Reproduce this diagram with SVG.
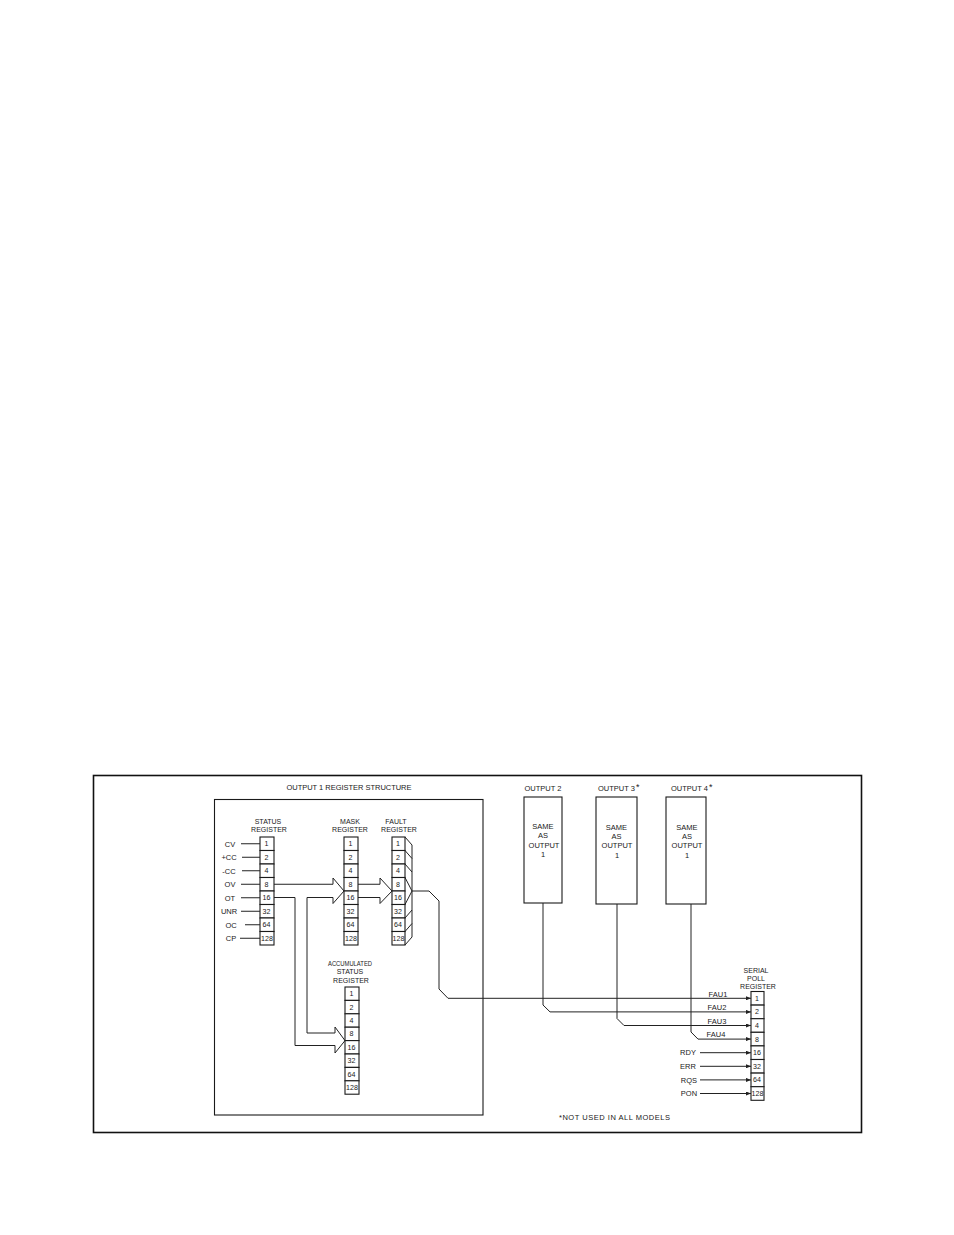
<svg xmlns="http://www.w3.org/2000/svg" width="954" height="1235" viewBox="0 0 954 1235">
<style>
  text { font-family: "Liberation Sans", Arial, sans-serif; font-size: 7.5px; fill: #1a1a1a; }
  .c { text-anchor: middle; }
  .h { text-anchor: middle; font-size: 7px; }
  .n { text-anchor: middle; font-size: 7.1px; }
  .star { font-size: 9px; }
  .cell { fill: #fff; stroke: #1a1a1a; stroke-width: 1.1; }
  .box { fill: none; stroke: #1a1a1a; stroke-width: 1.1; }
  .ln { fill: none; stroke: #222; stroke-width: 1; }
</style>
<defs>
  <marker id="ah" markerUnits="userSpaceOnUse" markerWidth="5" markerHeight="4" refX="5" refY="2" orient="auto">
    <path d="M0,0 L5,2 L0,4 z" fill="#222"/>
  </marker>
</defs>
<rect width="954" height="1235" fill="#fff"/>

<g id="frame">
  <rect x="93.5" y="775.5" width="768" height="357" fill="none" stroke="#111" stroke-width="1.6"/>
</g>

<g id="output1">
  <rect class="box" x="214.5" y="799.5" width="268.5" height="315.5"/>
  <text class="c" x="349" y="790" textLength="125" lengthAdjust="spacing">OUTPUT 1 REGISTER STRUCTURE</text>
</g>

<g id="status-register">
  <text class="h" x="268" y="824">STATUS</text>
  <text class="h" x="269" y="832">REGISTER</text>
  <rect class="cell" x="260" y="837" width="14" height="13.5"/>
  <rect class="cell" x="260" y="850.5" width="14" height="13.5"/>
  <rect class="cell" x="260" y="864" width="14" height="13.5"/>
  <rect class="cell" x="260" y="877.5" width="14" height="13.5"/>
  <rect class="cell" x="260" y="891" width="14" height="13.5"/>
  <rect class="cell" x="260" y="904.5" width="14" height="13.5"/>
  <rect class="cell" x="260" y="918" width="14" height="13.5"/>
  <rect class="cell" x="260" y="931.5" width="14" height="13.5"/>
  <text class="n" x="266.5" y="846.3">1</text>
  <text class="n" x="266.5" y="859.8">2</text>
  <text class="n" x="266.5" y="873.3">4</text>
  <text class="n" x="266.5" y="886.8">8</text>
  <text class="n" x="266.5" y="900.3">16</text>
  <text class="n" x="266.5" y="913.8">32</text>
  <text class="n" x="266.5" y="927.3">64</text>
  <text class="n" x="267" y="940.8">128</text>
  <text class="c" x="230" y="846.5">CV</text>
  <text class="c" x="229" y="860">+CC</text>
  <text class="c" x="229" y="873.5">-CC</text>
  <text class="c" x="230" y="887">OV</text>
  <text class="c" x="230" y="900.5">OT</text>
  <text class="c" x="229" y="914">UNR</text>
  <text class="c" x="231" y="927.5">OC</text>
  <text class="c" x="231" y="941">CP</text>
</g>

<g id="mask-register">
  <text class="h" x="350" y="824">MASK</text>
  <text class="h" x="350" y="832">REGISTER</text>
  <rect class="cell" x="344" y="837" width="14" height="13.5"/>
  <rect class="cell" x="344" y="850.5" width="14" height="13.5"/>
  <rect class="cell" x="344" y="864" width="14" height="13.5"/>
  <rect class="cell" x="344" y="877.5" width="14" height="13.5"/>
  <rect class="cell" x="344" y="891" width="14" height="13.5"/>
  <rect class="cell" x="344" y="904.5" width="14" height="13.5"/>
  <rect class="cell" x="344" y="918" width="14" height="13.5"/>
  <rect class="cell" x="344" y="931.5" width="14" height="13.5"/>
  <text class="n" x="350.5" y="846.3">1</text>
  <text class="n" x="350.5" y="859.8">2</text>
  <text class="n" x="350.5" y="873.3">4</text>
  <text class="n" x="350.5" y="886.8">8</text>
  <text class="n" x="350.5" y="900.3">16</text>
  <text class="n" x="350.5" y="913.8">32</text>
  <text class="n" x="350.5" y="927.3">64</text>
  <text class="n" x="351" y="940.8">128</text>
</g>

<g id="fault-register">
  <text class="h" x="396" y="824">FAULT</text>
  <text class="h" x="399" y="832">REGISTER</text>
  <rect class="cell" x="392" y="837" width="13" height="13.5"/>
  <rect class="cell" x="392" y="850.5" width="13" height="13.5"/>
  <rect class="cell" x="392" y="864" width="13" height="13.5"/>
  <rect class="cell" x="392" y="877.5" width="13" height="13.5"/>
  <rect class="cell" x="392" y="891" width="13" height="13.5"/>
  <rect class="cell" x="392" y="904.5" width="13" height="13.5"/>
  <rect class="cell" x="392" y="918" width="13" height="13.5"/>
  <rect class="cell" x="392" y="931.5" width="13" height="13.5"/>
  <text class="n" x="398" y="846.3">1</text>
  <text class="n" x="398" y="859.8">2</text>
  <text class="n" x="398" y="873.3">4</text>
  <text class="n" x="398" y="886.8">8</text>
  <text class="n" x="398" y="900.3">16</text>
  <text class="n" x="398" y="913.8">32</text>
  <text class="n" x="398" y="927.3">64</text>
  <text class="n" x="398.5" y="940.8">128</text>
</g>

<g id="accumulated-status-register">
  <text class="h" x="350" y="966" textLength="44" lengthAdjust="spacingAndGlyphs">ACCUMULATED</text>
  <text class="h" x="350" y="974">STATUS</text>
  <text class="h" x="351" y="982.5">REGISTER</text>
  <rect class="cell" x="345" y="987" width="14" height="13.4"/>
  <rect class="cell" x="345" y="1000.4" width="14" height="13.4"/>
  <rect class="cell" x="345" y="1013.8" width="14" height="13.4"/>
  <rect class="cell" x="345" y="1027.2" width="14" height="13.4"/>
  <rect class="cell" x="345" y="1040.6" width="14" height="13.4"/>
  <rect class="cell" x="345" y="1054" width="14" height="13.4"/>
  <rect class="cell" x="345" y="1067.4" width="14" height="13.4"/>
  <rect class="cell" x="345" y="1080.8" width="14" height="13.4"/>
  <text class="n" x="351.5" y="996.2">1</text>
  <text class="n" x="351.5" y="1009.6">2</text>
  <text class="n" x="351.5" y="1023">4</text>
  <text class="n" x="351.5" y="1036.4">8</text>
  <text class="n" x="351.5" y="1049.8">16</text>
  <text class="n" x="351.5" y="1063.2">32</text>
  <text class="n" x="351.5" y="1076.6">64</text>
  <text class="n" x="352" y="1090">128</text>
</g>

<g id="output2">
  <text class="c" x="543" y="791">OUTPUT 2</text>
  <rect class="box" x="524" y="797" width="38" height="106"/>
  <text class="c" x="543" y="829">SAME</text>
  <text class="c" x="543" y="838">AS</text>
  <text class="c" x="544" y="848">OUTPUT</text>
  <text class="c" x="543" y="857">1</text>
</g>

<g id="output3">
  <text x="598" y="791">OUTPUT 3<tspan class="star" dx="1" dy="-1">*</tspan></text>
  <rect class="box" x="596" y="797" width="41" height="107"/>
  <text class="c" x="616.5" y="830">SAME</text>
  <text class="c" x="616.5" y="839">AS</text>
  <text class="c" x="617" y="848">OUTPUT</text>
  <text class="c" x="617" y="858">1</text>
</g>

<g id="output4">
  <text x="671" y="791">OUTPUT 4<tspan class="star" dx="1" dy="-1">*</tspan></text>
  <rect class="box" x="666" y="797" width="40" height="107"/>
  <text class="c" x="687" y="830">SAME</text>
  <text class="c" x="687" y="839">AS</text>
  <text class="c" x="687" y="848">OUTPUT</text>
  <text class="c" x="687" y="858">1</text>
</g>

<g id="serial-poll-register">
  <text class="h" x="756" y="973">SERIAL</text>
  <text class="h" x="756" y="981">POLL</text>
  <text class="h" x="758" y="989">REGISTER</text>
  <rect class="cell" x="751" y="991.5" width="13" height="13.6"/>
  <rect class="cell" x="751" y="1005.1" width="13" height="13.6"/>
  <rect class="cell" x="751" y="1018.7" width="13" height="13.6"/>
  <rect class="cell" x="751" y="1032.3" width="13" height="13.6"/>
  <rect class="cell" x="751" y="1045.9" width="13" height="13.6"/>
  <rect class="cell" x="751" y="1059.5" width="13" height="13.6"/>
  <rect class="cell" x="751" y="1073.1" width="13" height="13.6"/>
  <rect class="cell" x="751" y="1086.7" width="13" height="13.6"/>
  <text class="n" x="757" y="1000.8">1</text>
  <text class="n" x="757" y="1014.4">2</text>
  <text class="n" x="757" y="1028">4</text>
  <text class="n" x="757" y="1041.6">8</text>
  <text class="n" x="757" y="1055.2">16</text>
  <text class="n" x="757" y="1068.8">32</text>
  <text class="n" x="757" y="1082.4">64</text>
  <text class="n" x="757.5" y="1096">128</text>
  <text class="c" x="718" y="996.5">FAU1</text>
  <text class="c" x="717" y="1010">FAU2</text>
  <text class="c" x="717" y="1023.5">FAU3</text>
  <text class="c" x="716" y="1037">FAU4</text>
  <text class="c" x="688" y="1055.4">RDY</text>
  <text class="c" x="688" y="1069">ERR</text>
  <text class="c" x="689" y="1082.6">RQS</text>
  <text class="c" x="689" y="1096.2">PON</text>
</g>

<g id="connectors">
  <!-- status inputs -->
  <path class="ln" d="M241,843.75H260 M242,857.25H260 M242,870.75H260 M241,884.25H260 M241,897.75H260 M241,911.25H260 M245,924.75H260 M240,938.25H260"/>
  <!-- hollow T-shaped block arrow from status register to mask and accumulated registers -->
  <path class="ln" d="M274,884.25 H333 V878 L344,891 L333,903.5 V897.5 H307 V1033 H335 V1027 L345,1040.6 L335,1053 V1045.5 H295 V897.5 H274"/>
  <!-- hollow block arrow from mask register to fault register -->
  <path class="ln" d="M358,884.25 H380 V878 L392,891 L380,903.5 V897.5 H358"/>
  <!-- fault register OR funnel -->
  <path class="ln" d="M412,845 V937 M405,837 L412,845 M405,850.5 L412,858.5 M405,864 L412,872 M405,877.5 L412,891 L405,904.5 M405,918 L412,910 M405,931.5 L412,923.5 M405,945 L412,937"/>
  <!-- fault summary to serial poll bit 1 -->
  <path class="ln" d="M412,891 H429 L439,901 V989 L448,998.3 H751" marker-end="url(#ah)"/>
  <!-- outputs 2,3,4 to serial poll bits 2,4,8 -->
  <path class="ln" d="M543,903 V1005 L550,1011.9 H751" marker-end="url(#ah)"/>
  <path class="ln" d="M617,904 V1018.5 L624,1025.5 H751" marker-end="url(#ah)"/>
  <path class="ln" d="M691,904 V1032 L698,1039.1 H751" marker-end="url(#ah)"/>
  <!-- RDY ERR RQS PON -->
  <path class="ln" d="M700,1052.7 H751" marker-end="url(#ah)"/>
  <path class="ln" d="M700,1066.3 H751" marker-end="url(#ah)"/>
  <path class="ln" d="M700,1079.9 H751" marker-end="url(#ah)"/>
  <path class="ln" d="M700,1093.5 H751" marker-end="url(#ah)"/>
</g>

<g id="note">
  <text x="559" y="1120" textLength="111" lengthAdjust="spacing">*NOT USED IN ALL MODELS</text>
</g>
</svg>
